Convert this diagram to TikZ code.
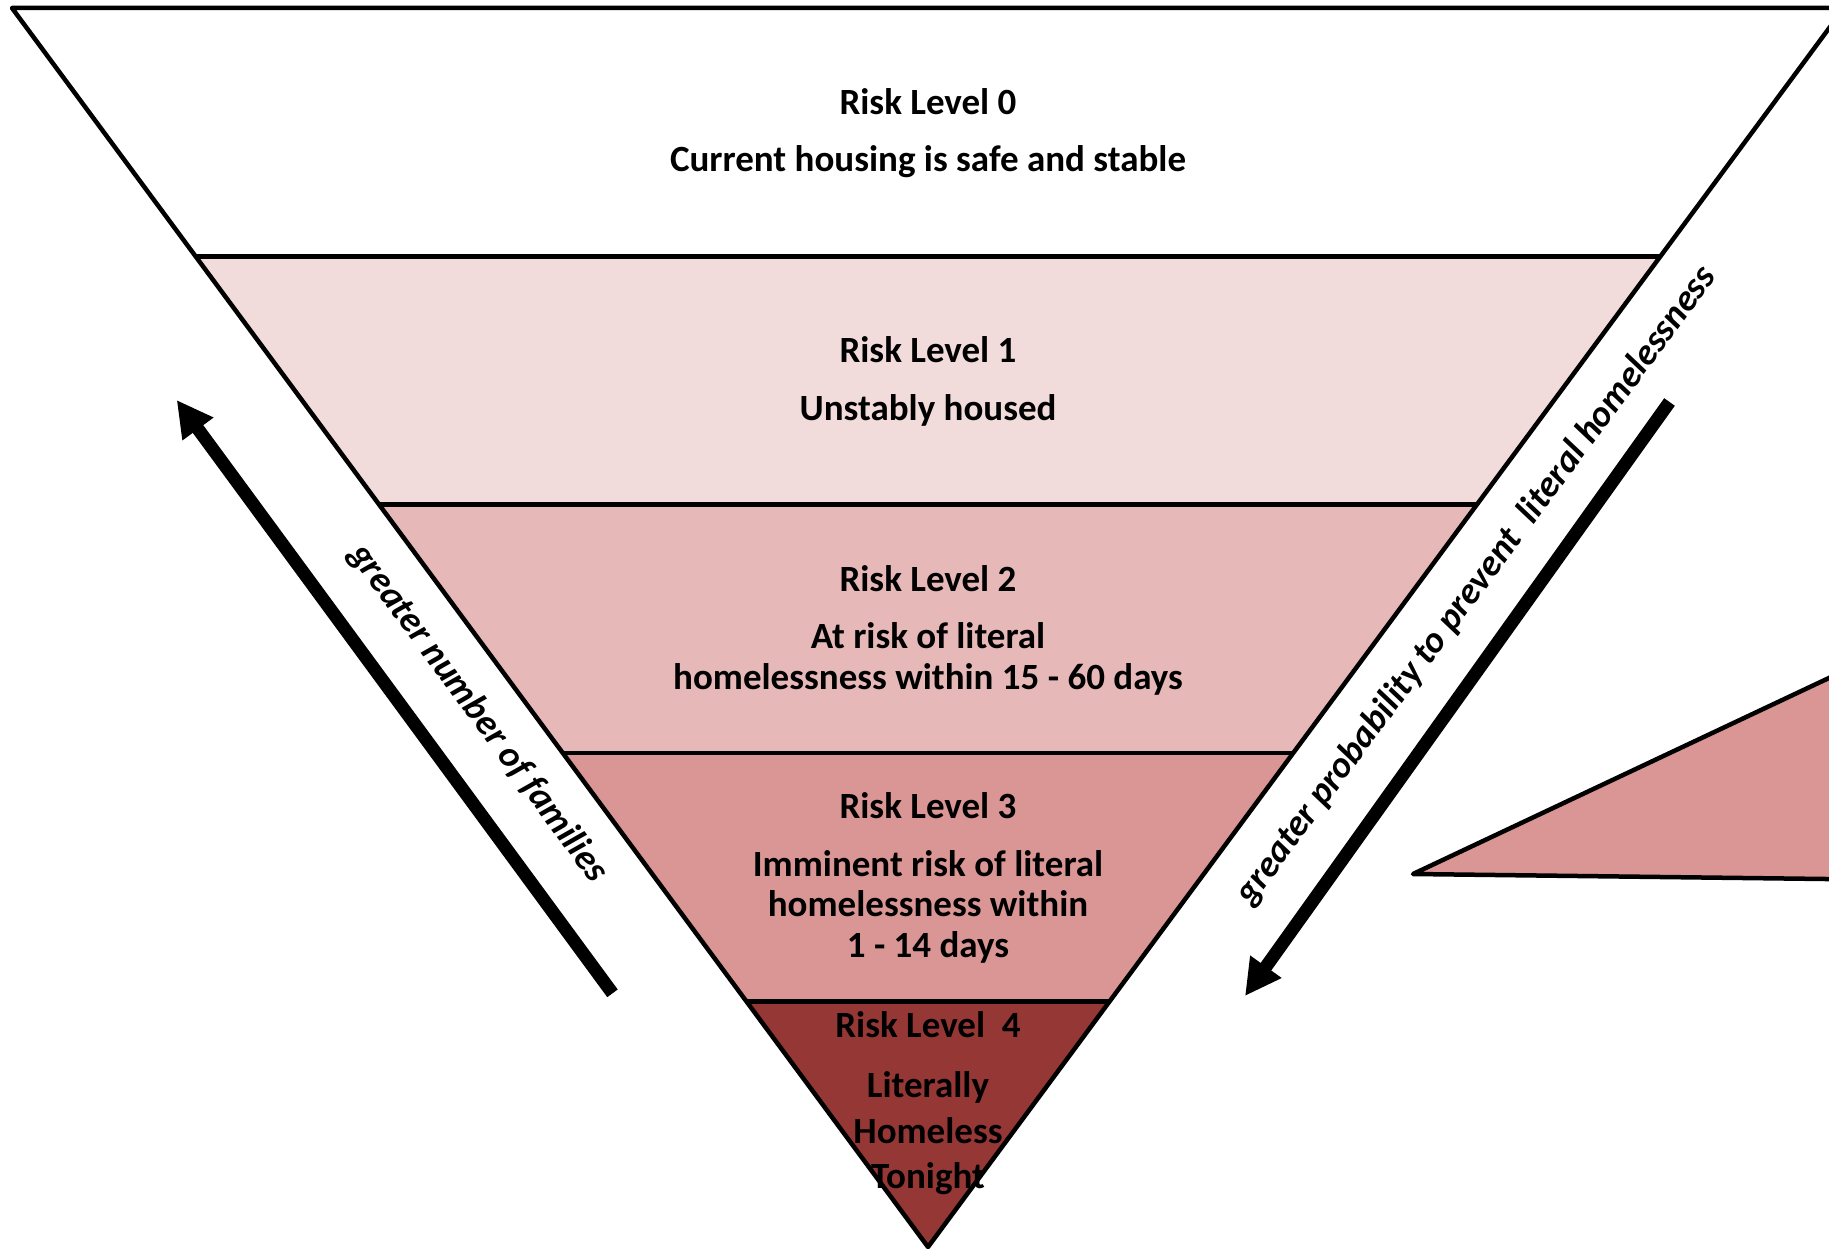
\documentclass[tikz,border=0pt]{standalone}
\usepackage{fontspec}
\setmainfont{Carlito}
\usetikzlibrary{arrows.meta}
\definecolor{bandone}{HTML}{F2DCDB}
\definecolor{bandtwo}{HTML}{E6B9B8}
\definecolor{bandthree}{HTML}{D99694}
\definecolor{bandfour}{HTML}{953735}
\begin{document}
\begin{tikzpicture}[x=1pt,y=-1pt,
  edge/.style={line width=4.5pt, line join=round},
  lbl/.style={font=\fontsize{37}{45}\selectfont\bfseries, anchor=base, inner sep=0pt},
  side/.style={font=\fontsize{37}{45}\selectfont\bfseries\itshape, anchor=base, inner sep=0pt},
  bigarrow/.style={line width=13pt, -{Triangle[length=36pt,width=36pt]}}
]
\useasboundingbox (0,0) rectangle (1829,1249);
\clip (0,0) rectangle (1829,1249);
% funnel corners
\coordinate (A0) at (12,8);      \coordinate (B0) at (1844,8);
\coordinate (A1) at (195.7,256.5); \coordinate (B1) at (1660.3,256.5);
\coordinate (A2) at (379.1,504.5); \coordinate (B2) at (1476.9,504.5);
\coordinate (A3) at (562.8,753);   \coordinate (B3) at (1293.2,753);
\coordinate (A4) at (746.5,1001.5);\coordinate (B4) at (1109.5,1001.5);
\coordinate (P) at (928,1247);
% fills
\fill[white] (A0) -- (B0) -- (B1) -- (A1) -- cycle;
\fill[bandone] (A1) -- (B1) -- (B2) -- (A2) -- cycle;
\fill[bandtwo] (A2) -- (B2) -- (B3) -- (A3) -- cycle;
\fill[bandthree] (A3) -- (B3) -- (B4) -- (A4) -- cycle;
\fill[bandfour] (A4) -- (B4) -- (P) -- cycle;
% outlines
\draw[edge] (A1) -- (B1);
\draw[edge] (A2) -- (B2);
\draw[edge] (A3) -- (B3);
\draw[edge] (A4) -- (B4);
\draw[edge] (A0) -- (B0) -- (P) -- cycle;
% side triangle
\coordinate (T1) at (1413,874);
\coordinate (T2) at (1900,644.5);
\coordinate (T3) at (1900,879.9);
\draw[edge, fill=bandthree] (T1) -- (T2) -- (T3) -- cycle;
% texts
\node[lbl] (t0a) at (928,114.3) {Risk Level 0};
\node[lbl] (t0b) at (928,171.5) {Current housing is safe and stable};
\node[lbl] (t1a) at (928,362.8) {Risk Level 1};
\node[lbl] (t1b) at (928,420) {Unstably housed};
\node[lbl] (t2a) at (928,591.5) {Risk Level 2};
\node[lbl] (t2b) at (928,648.6) {At risk of literal};
\node[lbl] (t2c) at (928,689.4) {homelessness within 15 - 60 days};
\node[lbl] (t3a) at (928,818.9) {Risk Level 3};
\node[lbl] (t3b) at (928,876.1) {Imminent risk of literal};
\node[lbl] (t3c) at (928,916.9) {homelessness within};
\node[lbl] (t3d) at (928,957.7) {1 - 14 days};
\node[lbl] (t4a) at (928,1037) {Risk Level\ \ 4};
\node[lbl] (t4b) at (928,1097.7) {Literally};
\node[lbl] (t4c) at (928,1143.2) {Homeless};
\node[lbl] (t4d) at (928,1188.7) {Tonight};
% side labels
\node[side, rotate=-53.52] (sl) at (470.1,719.3) {greater number of families};
\node[side, rotate=53.52] (sr) at (1484.4,591.6) {greater probability to prevent\ \ literal homelessness};
% arrows
\coordinate (la0) at (612.5,993.3);
\coordinate (la1) at (176.7,400);
\coordinate (ra0) at (1669.5,402);
\coordinate (ra1) at (1245,996);
\draw[bigarrow] (la0) -- (la1);
\draw[bigarrow] (ra0) -- (ra1);
\end{tikzpicture}
\end{document}
